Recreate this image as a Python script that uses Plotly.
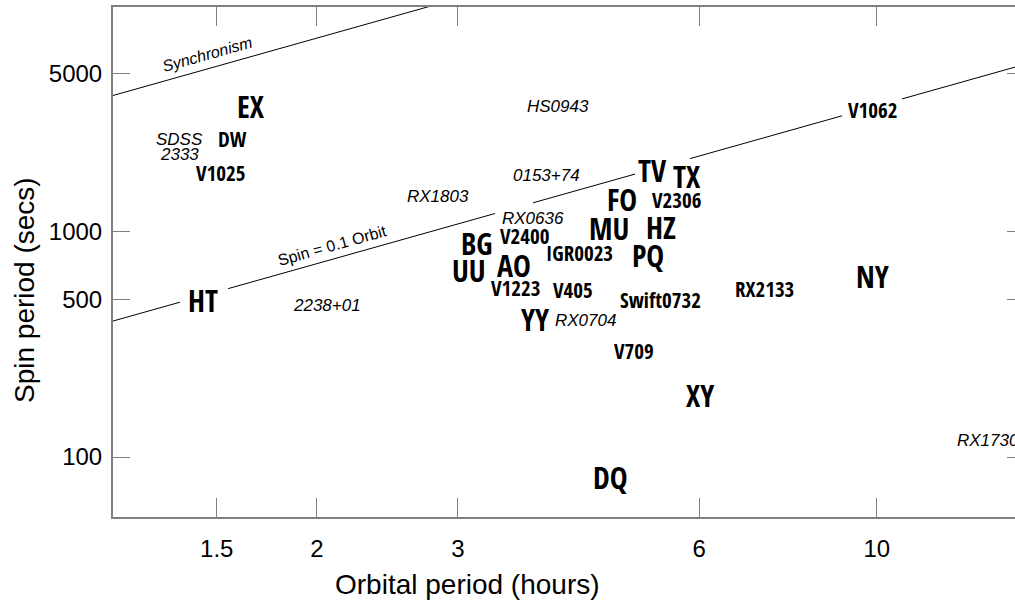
import math
import plotly.graph_objects as go

# ---------------- data ----------------
# Large bold labels
names_big = ["EX", "HT", "BG", "UU", "AO", "YY", "TV", "TX", "FO", "MU", "HZ", "PQ", "NY", "XY", "DQ"]
porb_big = [1.654, 1.443, 3.172, 3.099, 3.527, 3.751, 5.244, 5.799, 4.810, 4.634, 5.375, 5.185, 9.882, 6.016, 4.645]
pspin_big = [3574, 493, 883, 669, 710, 409, 1864, 1758, 1386, 1033, 1045, 780, 630, 187, 81]

# Medium bold labels
names_mid = ["DW", "V1025", "V2400", "IGR0023", "V1223", "V405", "Swift0732", "V709", "RX2133", "V1062", "V2306"]
porb_mid = [1.568, 1.518, 3.630, 4.255, 3.543, 4.174, 5.363, 4.983, 7.243, 9.876, 5.620]
pspin_mid = [2510, 1785, 933, 787, 550, 541, 488, 288, 545, 3385, 1351]

# Italic labels
names_it = ["SDSS<br>2333", "HS0943", "0153+74", "RX1803", "RX0636", "RX0704", "2238+01", "RX1730"]
porb_it = [1.346, 4.000, 3.872, 2.836, 3.718, 4.323, 2.060, 13.76]
pspin_it = [2393, 3607, 1789, 1444, 1157, 408, 475, 119]

# Reference lines: synchronism (spin = orbit) and spin = 0.1 orbit (drawn with gaps at labels)
sync_orb_h = [1.0, 3.0]
spin01_segments_h = [(0.9, 1.35), (1.55, 3.338), (3.723, 4.991), (5.846, 9.048), (10.75, 20.0)]

x_tickvals = [1.5, 2, 3, 6, 10]
x_ticktext = ["1.5", "2", "3", "6", "10"]
y_tickvals = [100, 500, 1000, 5000]
y_ticktext = ["100", "500", "1000", "5000"]

# ---------------- figure ----------------
NARROW = ("Noto Sans Condensed, Open Sans Condensed, Roboto Condensed, Liberation Sans Narrow, "
          "Arial Narrow, Liberation Sans, Arial, sans-serif")
SANS = "Liberation Sans, Arial, Helvetica, sans-serif"
AXC = "#808080"

fig = go.Figure()

fig.add_trace(go.Scatter(
    x=sync_orb_h, y=[h * 3600 for h in sync_orb_h], mode="lines",
    line=dict(color="black", width=1), hoverinfo="skip", showlegend=False))

sx, sy = [], []
for a, b in spin01_segments_h:
    sx += [a, b, None]
    sy += [0.1 * a * 3600, 0.1 * b * 3600, None]
fig.add_trace(go.Scatter(
    x=sx, y=sy, mode="lines", line=dict(color="black", width=1),
    hoverinfo="skip", showlegend=False, connectgaps=False))

# dummy trace to hold right-hand mirrored ticks
fig.add_trace(go.Scatter(x=[None], y=[None], yaxis="y2", showlegend=False, hoverinfo="skip"))


def add_labels(names, xs, ys, font, line_gap, base_shift):
    for name, xv, yv in zip(names, xs, ys):
        lines = name.split("<br>")
        n = len(lines)
        for i, ln in enumerate(lines):
            off = (i - (n - 1) / 2.0) * line_gap
            fig.add_annotation(x=math.log10(xv), y=math.log10(yv), xref="x", yref="y",
                               text=ln, showarrow=False, xanchor="center", yanchor="middle",
                               yshift=base_shift - off, font=font, borderpad=0)


add_labels(names_big, porb_big, pspin_big,
           dict(family=NARROW, size=30, weight="bold", color="black"), 30, 0)
add_labels(names_mid, porb_mid, pspin_mid,
           dict(family=NARROW, size=21, weight="bold", color="black"), 21, 2)
add_labels(names_it, porb_it, pspin_it,
           dict(family=SANS, size=17, style="italic", color="black"), 15, -1)

fig.update_layout(
    width=1015, height=610,
    margin=dict(l=113, r=0, t=7, b=93),
    paper_bgcolor="white", plot_bgcolor="white",
    font=dict(family=SANS, color="black"),
    xaxis=dict(type="log", range=[0.04663, 1.17244], tickvals=x_tickvals, ticktext=x_ticktext,
               ticks="inside", ticklen=19, tickwidth=1, tickcolor=AXC,
               showline=True, linecolor=AXC, linewidth=2, mirror="ticks",
               showgrid=False, zeroline=False, tickfont=dict(size=24, family=SANS),
               ticklabelstandoff=9),
    yaxis=dict(type="log", range=[1.7341, 3.9953], tickvals=y_tickvals, ticktext=y_ticktext,
               ticks="inside", ticklen=17, tickwidth=1, tickcolor=AXC,
               showline=True, linecolor=AXC, linewidth=2, mirror=False,
               showgrid=False, zeroline=False, tickfont=dict(size=24, family=SANS),
               ticklabelstandoff=4),
    yaxis2=dict(type="log", matches="y", overlaying="y", side="right", tickvals=y_tickvals,
                ticks="inside", ticklen=8, tickwidth=1, tickcolor=AXC,
                showline=False, showgrid=False, zeroline=False, showticklabels=False),
)

fig.add_annotation(x=math.log10(1.457), y=math.log10(6122), xref="x", yref="y", text="Synchronism",
                   showarrow=False, textangle=-15.7,
                   font=dict(family=SANS, size=16, style="italic", color="black"))
fig.add_annotation(x=math.log10(2.091), y=math.log10(871), xref="x", yref="y", text="Spin = 0.1 Orbit",
                   showarrow=False, textangle=-15.7,
                   font=dict(family=SANS, size=16, color="black"))

fig.add_annotation(x=(467 - 113) / 902, y=(517 - 584) / 510, xref="paper", yref="paper",
                   text="Orbital period (hours)", showarrow=False, xanchor="center", yanchor="middle",
                   font=dict(family=SANS, size=28, color="black"))
fig.add_annotation(x=(24 - 113) / 902, y=(517 - 290) / 510, xref="paper", yref="paper",
                   text="Spin period (secs)", showarrow=False, textangle=-90,
                   xanchor="center", yanchor="middle",
                   font=dict(family=SANS, size=28, color="black"))

fig.write_html("out.html", config={"displayModeBar": False},
               post_script="document.body.style.margin='0';")
